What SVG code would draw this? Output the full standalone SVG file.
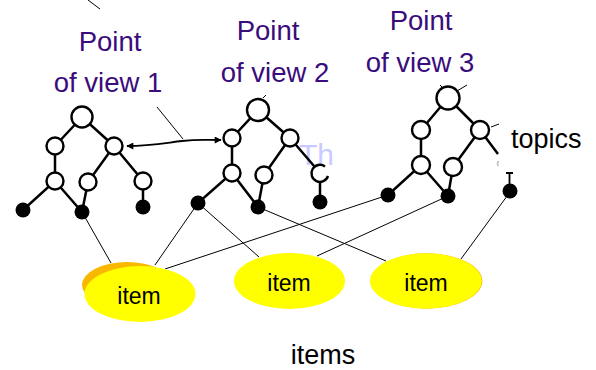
<svg xmlns="http://www.w3.org/2000/svg" width="596" height="370" viewBox="0 0 596 370">
  <defs>
    <style>
      .edge { stroke: #000; stroke-width: 2.5; fill: none; }
      .node { fill: #fff; stroke: #000; stroke-width: 2.4; }
      .leaf { fill: #000; }
      .link { stroke: #000; stroke-width: 1; fill: none; }
      .view { font-family: "Liberation Sans", Arial, sans-serif; font-size: 27.5px; fill: #3a0c7c; text-anchor: middle; }
      .label { font-family: "Liberation Sans", Arial, sans-serif; fill: #000; }
      .item { fill: #ffff00; }
    </style>
    <marker id="head" viewBox="0 0 10 10" refX="9" refY="5" markerWidth="9" markerHeight="7" orient="auto-start-reverse" markerUnits="userSpaceOnUse">
      <path d="M0,0 L10,5 L0,10 z" fill="#000"/>
    </marker>
    <clipPath id="wmclip"><rect x="290" y="130" width="43" height="50"/></clipPath>
  </defs>

  <rect width="596" height="370" fill="#fff"/>

  <!-- faint background lettering -->
  <text x="299" y="165" font-family="Liberation Sans, Arial, sans-serif" font-size="30" fill="#c9caff" clip-path="url(#wmclip)">Th</text>

  <!-- view titles -->
  <g id="title1">
    <text class="view" x="110" y="51">Point</text>
    <text class="view" x="108" y="92">of view 1</text>
  </g>
  <g id="title2">
    <text class="view" x="268" y="40">Point</text>
    <text class="view" x="275" y="82">of view 2</text>
  </g>
  <g id="title3">
    <text class="view" x="421" y="30">Point</text>
    <text class="view" x="420" y="72">of view 3</text>
  </g>

  <!-- connectors: pointers, cross links and item links -->
  <g id="connectors">
    <line class="link" x1="88" y1="0" x2="100" y2="9"/>
    <line class="link" x1="157" y1="107" x2="183" y2="139"/>
    <path d="M127,146 C150,146 165,143 182,141 S205,140 221,140" stroke="#000" stroke-width="1.8" fill="none" marker-start="url(#head)" marker-end="url(#head)"/>
    <line class="link" x1="82" y1="212" x2="111" y2="263"/>
    <line class="link" x1="198" y1="203" x2="155" y2="265"/>
    <line class="link" x1="198" y1="203" x2="259" y2="257"/>
    <line class="link" x1="388" y1="195" x2="165" y2="269"/>
    <line class="link" x1="258" y1="207" x2="386" y2="261"/>
    <line class="link" x1="448" y1="196" x2="317" y2="256"/>
    <line class="link" x1="510" y1="192" x2="461" y2="259"/>
    <line class="link" x1="263" y1="98" x2="266" y2="95"/>
    <line class="link" x1="440" y1="85" x2="443" y2="88"/>
    <line class="link" x1="457" y1="91" x2="467" y2="85"/>
    <line class="link" x1="491" y1="127" x2="499" y2="124"/>
  </g>

  <!-- topic tree 1 -->
  <g id="tree1">
    <path class="edge" d="M82,117 L55,146 M82,117 L114,146 M55,146 V181 L23,210 M55,181 L82,212 M88,182 L82,212 M114,146 L88,182 M114,146 L143,181 V207"/>
    <circle class="node" cx="82" cy="117" r="10.5"/>
    <circle class="node" cx="55" cy="146" r="8.5"/>
    <circle class="node" cx="114" cy="146" r="8.5"/>
    <circle class="node" cx="55" cy="181" r="8.5"/>
    <circle class="node" cx="88" cy="182" r="8.5"/>
    <circle class="node" cx="143" cy="181" r="8.5"/>
    <circle class="leaf" cx="23" cy="210" r="7.5"/>
    <circle class="leaf" cx="82" cy="212" r="7.5"/>
    <circle class="leaf" cx="143" cy="207" r="7.5"/>
  </g>

  <!-- topic tree 2 -->
  <g id="tree2">
    <path class="edge" d="M258,110 L232,138 M258,110 L290,138 M232,138 V173 L198,203 M232,173 L258,207 M264,175 L258,207 M290,138 L264,175 M290,138 L320,173 M320,181 V202"/>
    <circle class="node" cx="258" cy="110" r="11"/>
    <circle class="node" cx="232" cy="138" r="8.5"/>
    <circle class="node" cx="290" cy="138" r="8.5"/>
    <circle class="node" cx="232" cy="173" r="8.5"/>
    <circle class="node" cx="264" cy="175" r="8.5"/>
    <path class="node" d="M325,166.5 A8.5,8.5 0 1 0 328,176"/>
    <circle class="leaf" cx="198" cy="203" r="7.5"/>
    <circle class="leaf" cx="258" cy="207" r="7.5"/>
    <circle class="leaf" cx="320" cy="202" r="7.5"/>
  </g>

  <!-- topic tree 3 -->
  <g id="tree3">
    <path class="edge" d="M448,98 L421,130 M448,98 L480,130 M421,130 V165 L388,195 M421,165 L448,196 M453,167 L448,196 M480,130 L453,167 M480,130 L498,154"/>
    <circle class="node" cx="448" cy="98" r="11.5"/>
    <circle class="node" cx="421" cy="130" r="9"/>
    <circle class="node" cx="480" cy="130" r="9"/>
    <circle class="node" cx="421" cy="165" r="9"/>
    <circle class="node" cx="453" cy="167" r="9"/>
    <path d="M498.5,161 A4,4 0 0 0 498.5,166" stroke="#bbb" stroke-width="1.5" fill="none"/>
    <path d="M506,173 H513 M509.5,173 V190" stroke="#000" stroke-width="1.8" fill="none"/>
    <circle class="leaf" cx="388" cy="195" r="7.5"/>
    <circle class="leaf" cx="448" cy="196" r="7.5"/>
    <circle class="leaf" cx="510" cy="191" r="7.5"/>
  </g>

  <text id="topics" class="label" x="511" y="148" font-size="27">topics</text>

  <!-- items -->
  <g id="item1">
    <ellipse cx="127" cy="285" rx="45" ry="23" fill="#f9b800"/>
    <ellipse class="item" cx="140" cy="294" rx="55.5" ry="28"/>
    <text class="label" x="139" y="304" font-size="23" text-anchor="middle">item</text>
  </g>
  <g id="item2">
    <ellipse class="item" cx="289.5" cy="281" rx="55.5" ry="28"/>
    <text class="label" x="289" y="291" font-size="23" text-anchor="middle">item</text>
  </g>
  <g id="item3">
    <ellipse cx="426.5" cy="281" rx="55.8" ry="27.7" fill="#ffb000"/>
    <ellipse class="item" cx="425.8" cy="281" rx="55.8" ry="27.7"/>
    <text class="label" x="426" y="291" font-size="23" text-anchor="middle">item</text>
  </g>

  <text id="items" class="label" x="323" y="364" font-size="27" text-anchor="middle">items</text>
</svg>
